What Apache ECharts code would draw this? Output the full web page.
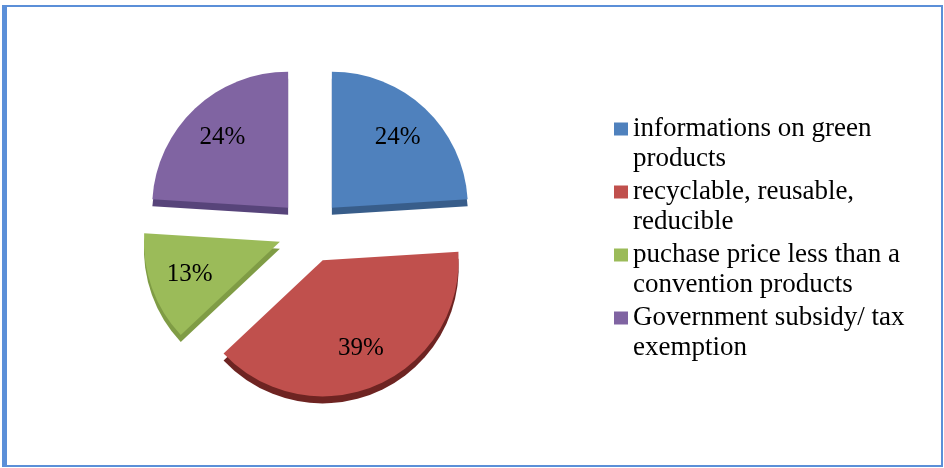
<!DOCTYPE html>
<html>
<head>
<meta charset="utf-8">
<script src="https://cdn.jsdelivr.net/npm/echarts@6/dist/echarts.min.js"></script>
<style>
html,body{margin:0;padding:0;background:#fff;}
#chart{width:944px;height:468px;}
</style>
</head>
<body>
<div id="chart"></div>
<script>
const categories = [
  'informations on green products',
  'recyclable, reusable, reducible',
  'puchase price less than a convention products',
  'Government subsidy/ tax exemption'
];
const legendLines = [
  'informations on green\nproducts',
  'recyclable, reusable,\nreducible',
  'puchase price less than a\nconvention products',
  'Government subsidy/ tax\nexemption'
];
const values = [24, 39, 13, 24];
const colors = ['#4f81bd', '#c0504d', '#9bbb59', '#8064a2'];
const depthColors = ['#385d8a', '#6e2422', '#7f9c45', '#57447a'];

const FONT = '"Liberation Serif", "Times New Roman", serif';
const chart = echarts.init(document.getElementById('chart'), null, {renderer: 'canvas'});

function pieData(cols) {
  return categories.map((c, i) => ({
    name: c,
    value: values[i],
    selected: true,
    itemStyle: {color: cols ? cols[i] : 'rgba(0,0,0,0)'}
  }));
}

const common = {
  type: 'pie',
  startAngle: 90,
  clockwise: true,
  selectedMode: 'multiple',
  selectedOffset: 32,
  animation: false,
  emphasis: {disabled: true},
  labelLine: {show: false}
};

chart.setOption({
  backgroundColor: '#ffffff',
  animation: false,
  graphic: [
    {type: 'rect', shape: {x: 4, y: 6, width: 938, height: 460}, style: {fill: 'none', stroke: '#5b8fd8', lineWidth: 2}, silent: true},
    {type: 'line', shape: {x1: 4.5, y1: 5, x2: 4.5, y2: 467}, style: {stroke: '#5b8fd8', lineWidth: 5}, silent: true}
  ],
  legend: {
    orient: 'vertical',
    left: 614,
    top: 84,
    padding: 0,
    itemWidth: 14,
    itemHeight: 13,
    itemGap: -27,
    icon: 'rect',
    selectedMode: false,
    data: categories.map((c, i) => ({name: c, itemStyle: {color: colors[i]}})),
    formatter: function (name) { return '\n' + legendLines[categories.indexOf(name)]; },
    textStyle: {fontFamily: FONT, fontSize: 27, lineHeight: 30, color: '#000'}
  },
  series: [
    Object.assign({}, common, {
      name: 'depth', z: 1,
      center: [310, 238], radius: [0, 136],
      label: {show: false},
      data: pieData(depthColors)
    }),
    Object.assign({}, common, {
      name: 'top', z: 2,
      center: [310, 231], radius: [0, 136],
      label: {show: false},
      data: pieData(colors)
    }),
    Object.assign({}, common, {
      name: 'labels', z: 3, silent: true,
      center: [310, 231], radius: [50, 136],
      label: {show: true, position: 'inside', formatter: '{c}%', fontFamily: FONT, fontSize: 25, color: '#000'},
      data: pieData(null)
    })
  ]
});
</script>
</body>
</html>
